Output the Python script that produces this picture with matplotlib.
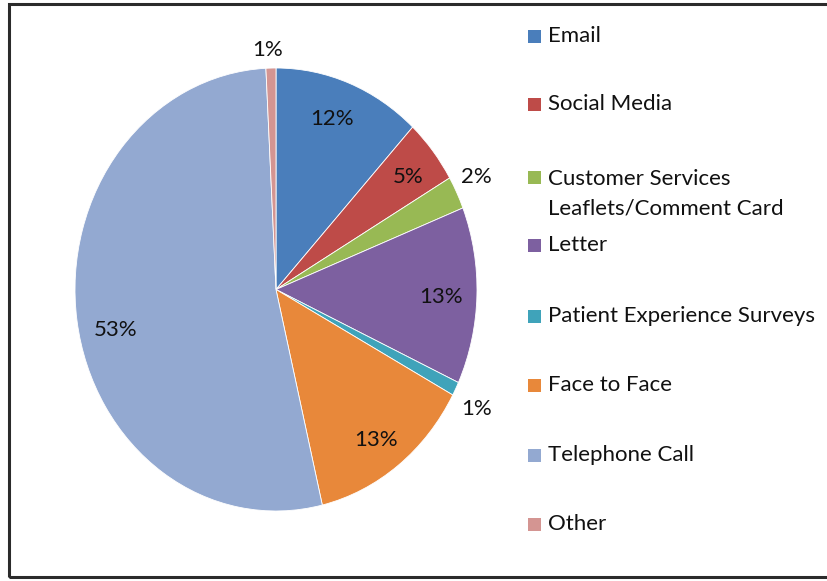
import matplotlib
matplotlib.use("Agg")
import matplotlib.pyplot as plt
from matplotlib.patches import Rectangle

# Share of contacts by channel (percent)
categories = ["Email", "Social Media", "Customer Services\nLeaflets/Comment Card", "Letter",
              "Patient Experience Surveys", "Face to Face", "Telephone Call", "Other"]
shares = [11.9, 4.7, 2.4, 12.9, 1.0, 13.4, 52.9, 0.8]
colors = ["#4A7EBB", "#BE4B48", "#98B954", "#7D60A0", "#3FA3BA", "#E8883A", "#93A9D1", "#D49592"]

# Where each percentage label sits, in pie-radius units (x right, y up)
label_pos = [(0.28, 0.77), (0.66, 0.51), (0.995, 0.51), (0.82, -0.034),
             (1.0, -0.54), (0.50, -0.68), (-0.80, -0.183), (-0.04, 1.08)]

W, H = 828, 581
fig = plt.figure(figsize=(W / 100, H / 100), dpi=100)
fig.patch.set_facecolor("white")
FONT = "Lato"
FS = 16

# outer frame
fig.patches.append(Rectangle((8.5 / W, 4 / H), 1.2, (577 - 4) / H, transform=fig.transFigure,
                             fill=False, edgecolor="#2b2b2b", linewidth=2.2))

# pie axes (slightly taller than wide, as the chart is stretched)
left, right, top, bottom = 75, 477, 68, 511
ax = fig.add_axes([left / W, (H - bottom) / H, (right - left) / W, (bottom - top) / H])
wedges, _ = ax.pie(shares, colors=colors, startangle=90, counterclock=False,
                   wedgeprops=dict(edgecolor="white", linewidth=0.6))
ax.set_aspect("auto")
ax.set_xlim(-1, 1)
ax.set_ylim(-1, 1)
ax.axis("off")

for v, (x, y) in zip(shares, label_pos):
    ax.text(x, y, f"{v:.0f}%", ha="center", va="center", fontsize=FS,
            family=FONT, color="#111111", clip_on=False)

# legend drawn as squares plus text
legend_y = [36, 104, 177, 245, 316, 385, 455, 524]
sq = 13
for name, c, yy in zip(categories, colors, legend_y):
    fig.patches.append(Rectangle((528 / W, (H - yy - sq / 2) / H), sq / W, sq / H,
                                 transform=fig.transFigure, facecolor=c, edgecolor="none"))
    if "\n" in name:
        fig.text(548 / W, (H - yy + 8) / H, name, ha="left", va="top",
                 fontsize=FS, family=FONT, color="#111111", linespacing=1.6)
    else:
        fig.text(548 / W, (H - yy) / H, name, ha="left", va="center",
                 fontsize=FS, family=FONT, color="#111111")

fig.savefig("out.png", dpi=100, facecolor="white")
